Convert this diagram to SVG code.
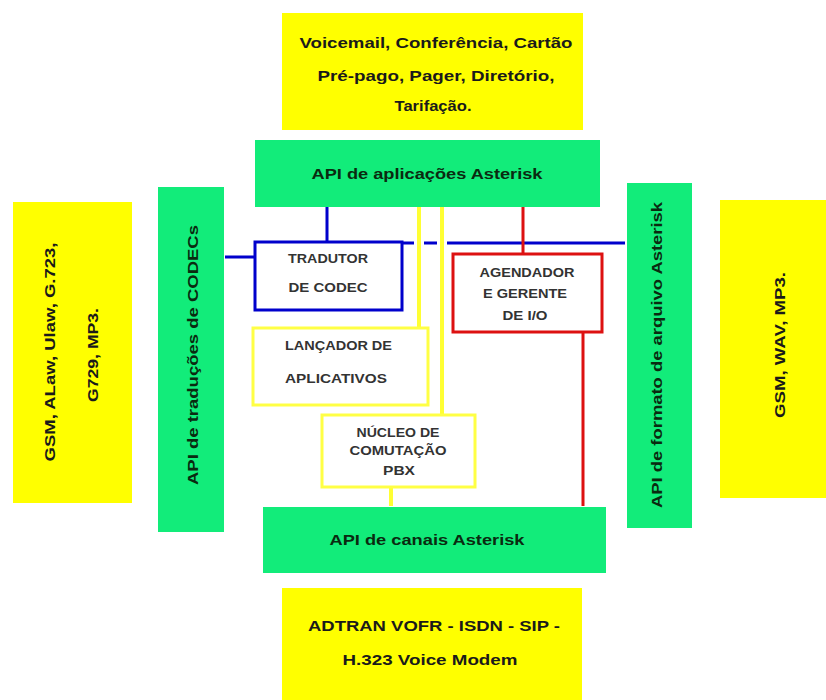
<svg xmlns="http://www.w3.org/2000/svg" width="826" height="700" viewBox="0 0 826 700">
<style>
.y{fill:#ffff00}
.g{fill:#12ec7a}
.t{font-family:"Liberation Sans",Arial,sans-serif;font-weight:bold;font-size:15px;fill:#1a1a1a;text-anchor:middle}
.tg{font-family:"Liberation Sans",Arial,sans-serif;font-weight:bold;font-size:15px;fill:#0a2a10;text-anchor:middle}
.s{font-family:"Liberation Sans",Arial,sans-serif;font-weight:bold;font-size:13px;fill:#333;text-anchor:middle}
.bb{fill:#fff;stroke:#0000cc;stroke-width:3}
.rb{fill:#fff;stroke:#dd1111;stroke-width:3}
.yb{fill:#fff;stroke:#ffff44;stroke-width:3}
.bl{stroke:#0000cc;stroke-width:3;fill:none}
.rl{stroke:#dd1111;stroke-width:3;fill:none}
.yl{stroke:#ffff33;stroke-width:4;fill:none}
</style>
<rect width="826" height="700" fill="#fff"/>
<g id="top-services"><rect class="y" x="282" y="13" width="301" height="117"/>
<text class="t" x="436" y="48" textLength="273" lengthAdjust="spacingAndGlyphs">Voicemail, Conferência, Cartão</text>
<text class="t" x="436" y="81" textLength="237" lengthAdjust="spacingAndGlyphs">Pré-pago, Pager, Diretório,</text>
<text class="t" x="433" y="111" textLength="77" lengthAdjust="spacingAndGlyphs">Tarifação.</text></g>
<g id="api-aplicacoes"><rect class="g" x="255" y="140" width="345" height="67"/>
<text class="tg" x="427" y="179" textLength="231" lengthAdjust="spacingAndGlyphs">API de aplicações Asterisk</text></g>
<g id="codecs-list"><rect class="y" x="13" y="202" width="119" height="301"/>
<text class="t" transform="translate(55,352) rotate(-90)" textLength="219" lengthAdjust="spacingAndGlyphs">GSM, ALaw, Ulaw, G.723,</text>
<text class="t" transform="translate(98,355) rotate(-90)" textLength="94" lengthAdjust="spacingAndGlyphs">G729, MP3.</text></g>
<g id="api-codecs"><rect class="g" x="158" y="187" width="66" height="345"/>
<text class="tg" transform="translate(198,355) rotate(-90)" textLength="260" lengthAdjust="spacingAndGlyphs">API de traduções de CODECs</text></g>
<g id="api-formato"><rect class="g" x="627" y="183" width="65" height="345"/>
<text class="tg" transform="translate(662,355) rotate(-90)" textLength="306" lengthAdjust="spacingAndGlyphs">API de formato de arquivo  Asterisk</text></g>
<g id="formats-list"><rect class="y" x="720" y="200" width="106" height="298"/>
<text class="t" transform="translate(785,345) rotate(-90)" textLength="146" lengthAdjust="spacingAndGlyphs">GSM, WAV, MP3.</text></g>
<g id="connectors">
<path class="bl" d="M327 207V243M225 257H255M402 243H414M424 243H437M447 243H625"/>
<path class="rl" d="M523 207V254M583 332V506"/>
<path class="yl" d="M419 207V328M442 207V415M391 487V506"/>
</g>
<g id="tradutor"><rect class="bb" x="255" y="242" width="147" height="68"/>
<text class="s" x="328" y="263" textLength="80" lengthAdjust="spacingAndGlyphs">TRADUTOR</text>
<text class="s" x="328" y="292" textLength="79" lengthAdjust="spacingAndGlyphs">DE CODEC</text></g>
<g id="agendador"><rect class="rb" x="453" y="254" width="149" height="78"/>
<text class="s" x="527" y="277" textLength="95" lengthAdjust="spacingAndGlyphs">AGENDADOR</text>
<text class="s" x="525" y="298" textLength="84" lengthAdjust="spacingAndGlyphs">E GERENTE</text>
<text class="s" x="525" y="320" textLength="45" lengthAdjust="spacingAndGlyphs">DE I/O</text></g>
<g id="lancador"><rect class="yb" x="253" y="328" width="175" height="77"/>
<text class="s" x="285" y="350" style="text-anchor:start" textLength="107" lengthAdjust="spacingAndGlyphs">LANÇADOR DE</text>
<text class="s" x="285" y="383" style="text-anchor:start" textLength="102" lengthAdjust="spacingAndGlyphs">APLICATIVOS</text></g>
<g id="nucleo"><rect class="yb" x="322" y="415" width="153" height="72"/>
<text class="s" x="398" y="437" textLength="83" lengthAdjust="spacingAndGlyphs">NÚCLEO DE</text>
<text class="s" x="398" y="455" textLength="97" lengthAdjust="spacingAndGlyphs">COMUTAÇÃO</text>
<text class="s" x="399" y="475" textLength="32" lengthAdjust="spacingAndGlyphs">PBX</text></g>
<g id="api-canais"><rect class="g" x="263" y="507" width="343" height="66"/>
<text class="tg" x="427" y="545" textLength="195" lengthAdjust="spacingAndGlyphs">API de canais Asterisk</text></g>
<g id="bottom-protocols"><rect class="y" x="282" y="588" width="300" height="112"/>
<text class="t" x="434" y="631" textLength="252" lengthAdjust="spacingAndGlyphs">ADTRAN VOFR - ISDN - SIP -</text>
<text class="t" x="430" y="665" textLength="175" lengthAdjust="spacingAndGlyphs">H.323 Voice Modem</text></g>
</svg>
